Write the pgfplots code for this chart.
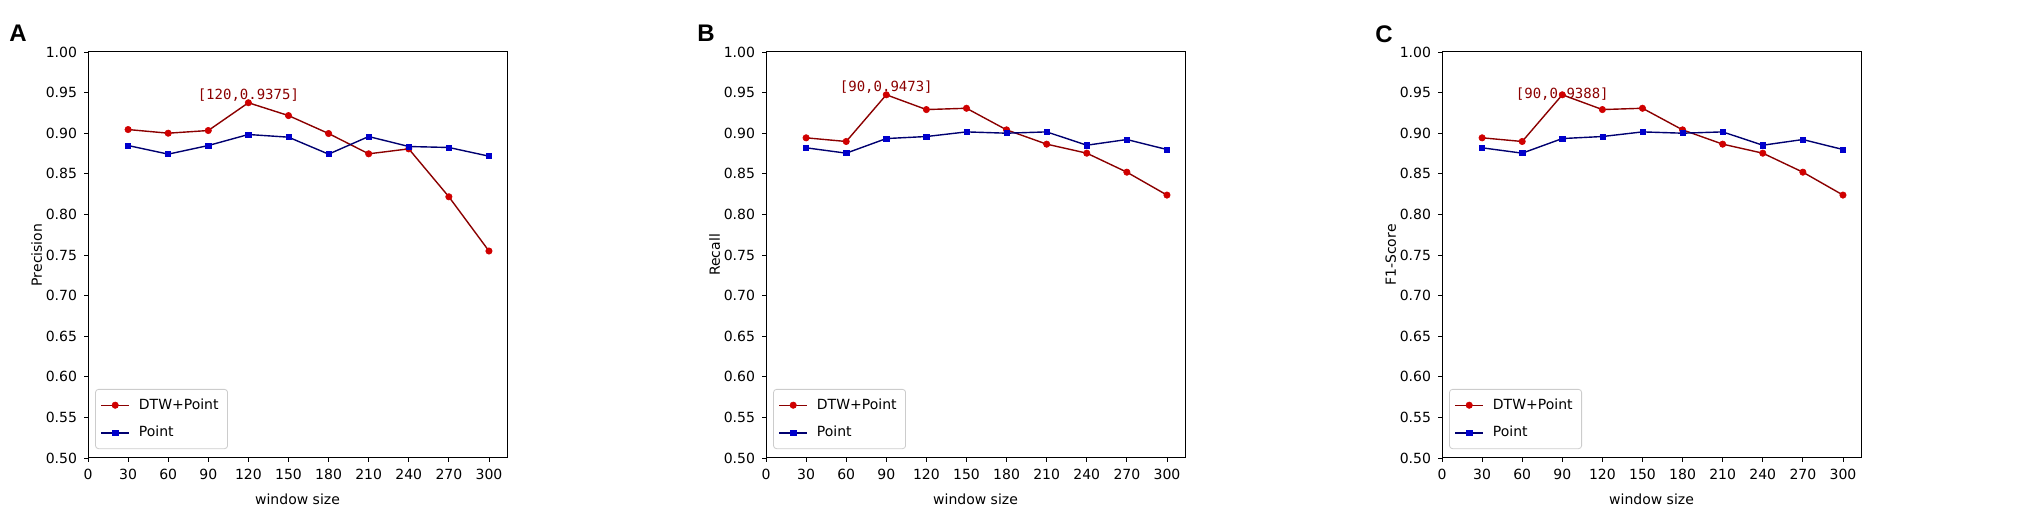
\documentclass[border=0pt]{standalone}
\usepackage{fontspec}
\setmainfont{DejaVu Sans}
\newfontfamily\monofont{DejaVu Sans Mono}
\newfontfamily\letterfont{Liberation Sans}
\usepackage{pgfplots}
\pgfplotsset{compat=1.18}
\definecolor{dtwline}{HTML}{8B0000}
\definecolor{dtwmark}{HTML}{D00000}
\definecolor{ptline}{HTML}{000070}
\definecolor{ptmark}{HTML}{0000CC}
\tikzset{annot/.style={anchor=south, inner sep=0.5pt, text=dtwline, font=\monofont\fontsize{7}{8}\selectfont}}
\pgfplotsset{
  panel/.style={
    scale only axis, width=209.5pt, height=203pt,
    xmin=0, xmax=313.5, ymin=0.5, ymax=1.0,
    xtick={0,30,60,90,120,150,180,210,240,270,300},
    ytick={0.50,0.55,0.60,0.65,0.70,0.75,0.80,0.85,0.90,0.95,1.00},
    yticklabel style={/pgf/number format/.cd, fixed, fixed zerofill, precision=2},
    /pgf/number format/assume math mode=true,
    tick label style={font=\fontsize{7}{8}\selectfont},
    label style={font=\fontsize{7}{8}\selectfont},
    ylabel shift=-5pt,
    tick pos=left, tick align=outside, major tick length=2pt,
    tick style={black, line width=0.4pt},
    axis line style={line width=0.5pt},
    xlabel={window size},
    legend cell align=left,
    legend style={at={(0.017,0.022)}, anchor=south west, draw=black!20,
      rounded corners=1.5pt, font=\fontsize{7}{8}\selectfont,
      inner xsep=2.5pt, inner ysep=2.5pt, row sep=3pt,
      /tikz/every odd column/.append style={column sep=2.5pt}},
    legend image code/.code={\draw[mark repeat=2,mark phase=2] plot coordinates {(0pt,0pt) (7pt,0pt) (14pt,0pt)};},
  },
  dtw/.style={color=dtwline, line width=0.7pt, mark=*, mark size=1.6pt,
    mark options={fill=dtwmark, draw=dtwmark, line width=0.3pt}},
  pt/.style={color=ptline, line width=0.7pt, mark=square*, mark size=1.3pt,
    mark options={fill=ptmark, draw=ptmark, line width=0.3pt}},
}
\begin{document}
\begin{tikzpicture}
\path[use as bounding box] (0,0) rectangle (1014.5pt,256pt);
% Panel A
\begin{axis}[panel, at={(44pt,27pt)}, anchor=south west, ylabel={Precision}]
\addplot[dtw] coordinates {(30,0.9045) (60,0.9000) (90,0.9033) (120,0.9375) (150,0.9217) (180,0.8996) (210,0.8746) (240,0.8807) (270,0.8217) (300,0.7549)};
\addlegendentry{DTW+Point}
\addplot[pt] coordinates {(30,0.8848) (60,0.8742) (90,0.8848) (120,0.8984) (150,0.8951) (180,0.8742) (210,0.8959) (240,0.8836) (270,0.8824) (300,0.8717)};
\addlegendentry{Point}
\node[annot] at (axis cs:120,0.9375) {[120,0.9375]};
\end{axis}
% Panel B
\begin{axis}[panel, at={(383pt,27pt)}, anchor=south west, ylabel={Recall}]
\addplot[dtw] coordinates {(30,0.8943) (60,0.8898) (90,0.9473) (120,0.9291) (150,0.9307) (180,0.9041) (210,0.8865) (240,0.8754) (270,0.8520) (300,0.8238)};
\addlegendentry{DTW+Point}
\addplot[pt] coordinates {(30,0.8820) (60,0.8754) (90,0.8934) (120,0.8959) (150,0.9016) (180,0.9000) (210,0.9016) (240,0.8852) (270,0.8922) (300,0.8799)};
\addlegendentry{Point}
\node[annot] at (axis cs:90,0.9473) {[90,0.9473]};
\end{axis}
% Panel C
\begin{axis}[panel, at={(721pt,27pt)}, anchor=south west, ylabel={F1-Score}]
\addplot[dtw] coordinates {(30,0.8943) (60,0.8898) (90,0.9473) (120,0.9291) (150,0.9307) (180,0.9041) (210,0.8865) (240,0.8754) (270,0.8520) (300,0.8238)};
\addlegendentry{DTW+Point}
\addplot[pt] coordinates {(30,0.8820) (60,0.8754) (90,0.8934) (120,0.8959) (150,0.9016) (180,0.9000) (210,0.9016) (240,0.8852) (270,0.8922) (300,0.8799)};
\addlegendentry{Point}
\node[annot] at (axis cs:90,0.9388) {[90,0.9388]};
\end{axis}
\node[anchor=north west, inner sep=0pt, font=\letterfont\bfseries\fontsize{12}{12}\selectfont] at (4.5pt,243.5pt) {A};
\node[anchor=north west, inner sep=0pt, font=\letterfont\bfseries\fontsize{12}{12}\selectfont] at (348.5pt,243.5pt) {B};
\node[anchor=north west, inner sep=0pt, font=\letterfont\bfseries\fontsize{12}{12}\selectfont] at (687.5pt,243.5pt) {C};
\end{tikzpicture}
\end{document}
